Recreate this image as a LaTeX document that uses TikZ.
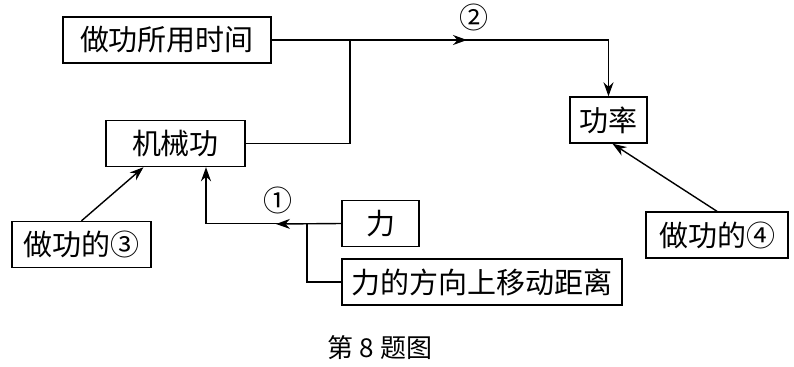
\documentclass[tikz,border=0pt]{standalone}
\usepackage{fontspec}
\setmainfont{Noto Sans CJK SC}
\usetikzlibrary{positioning,arrows.meta,calc}

\begin{document}
\begin{tikzpicture}[x=0.5pt,y=-0.5pt,
    box/.style={draw, line width=0.7pt, minimum height=23pt, inner sep=0pt, font=\fontsize{14.5}{16}\selectfont},
    link/.style={line width=0.7pt},
    arr/.style={link, -{Stealth[length=7pt,width=5pt]}}]
  \useasboundingbox (0,0) rectangle (794,366);
  % boxes
  \node[box, minimum width=104pt] (time)  at (167,40)    {做功所用时间};
  \node[box, minimum width=69.5pt] (work) at (175.5,143.5) {机械功};
  \node[box, minimum width=38.5pt] (power) at (608.5,120) {功率};
  \node[box, minimum width=69.5pt] (kind3) at (81.5,244.5) {做功的③};
  \node[box, minimum width=71pt] (kind4) at (717,235)    {做功的④};
  \node[box, minimum width=38.5pt] (force) at (380.5,223.5) {力};
  \node[box, minimum width=140pt] (dist)  at (482,282)   {力的方向上移动距离};
  % joints and marks
  \coordinate (j1) at (350,40);
  \coordinate (m2) at (467,40);
  \coordinate (j2) at (307,224);
  \coordinate (m1) at (276,224);
  % connectors
  \draw[link] (work.east) -| (j1);
  \draw[arr] (time.east) -| (power.north);
  \draw[arr] (time.east) -- (m2);
  \draw[arr] (force.west) -| ($(work.south)+(30.5,0)$);
  \draw[arr] (force.west) -- (m1);
  \draw[link] (dist.west) -| (j2);
  \draw[arr] (kind4.north) -- ($(power.south)+(4,0)$);
  \draw[arr] (kind3.north) -- ($(work.south)+(-32,0)$);
  % labels
  \node[font=\fontsize{14.5}{16}\selectfont] (lab2) at (474,17)  {②};
  \node[font=\fontsize{14.5}{16}\selectfont] (lab1) at (278,200) {①};
  \node[font=\fontsize{13}{15}\selectfont] (cap) at (380,348) {第 8 题图};
\end{tikzpicture}
\end{document}
